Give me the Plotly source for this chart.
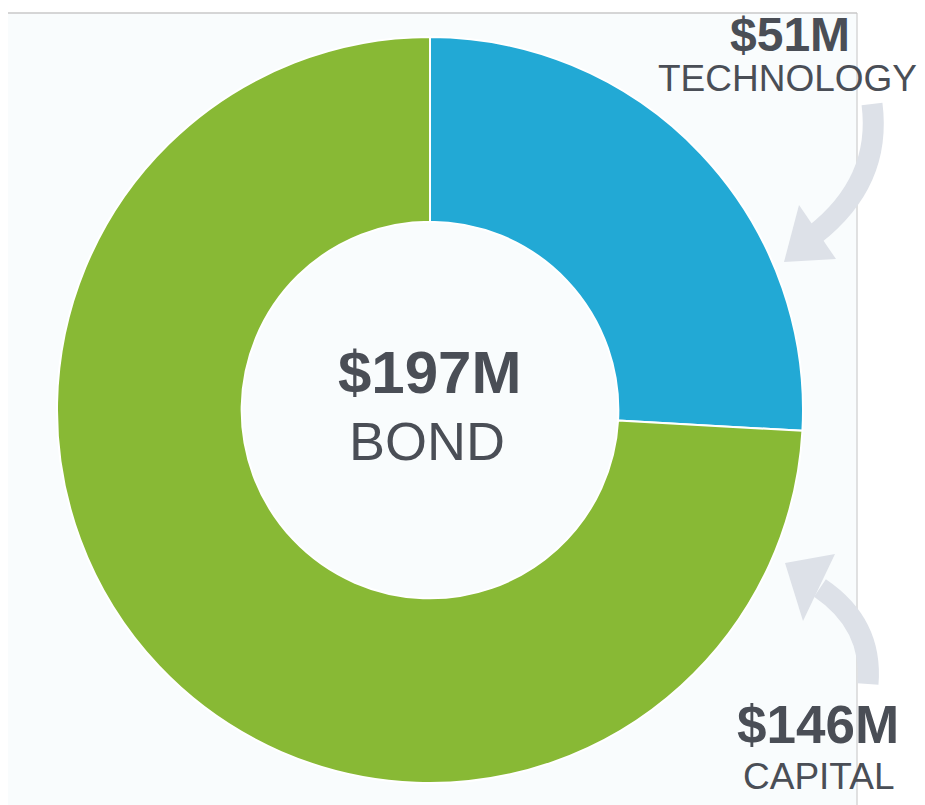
import plotly.graph_objects as go

# page body has an 8px margin; coordinates below are in the 925x805 window space
OFF = 8
W, H = 925 - OFF, 805 - OFF

categories = ["TECHNOLOGY", "CAPITAL"]
values = [51, 146]
value_labels = ["$51M", "$146M"]
total_label = "$197M"
center_label = "BOND"
colors = ["#22a9d5", "#88b935"]

TEXT = "#4a4e56"
ARROW = "#dde1e8"
FONT = "Liberation Sans, Arial, sans-serif"


def px(x):
    return (x - OFF) / W


def py(y):
    return 1 - (y - OFF) / H


fig = go.Figure()

fig.add_trace(go.Pie(
    labels=categories,
    values=values,
    hole=0.505,
    sort=False,
    direction="clockwise",
    rotation=0,
    textinfo="none",
    hoverinfo="label+value",
    marker=dict(colors=colors, line=dict(color="#ffffff", width=2)),
    domain=dict(x=[px(57), px(803)], y=[py(783), py(37)]),
    showlegend=False,
))

shapes = [
    dict(type="rect", xref="paper", yref="paper", x0=px(6), x1=px(857), y0=-0.05, y1=py(13),
         fillcolor="#f9fcfd", line=dict(width=0), layer="below"),
    dict(type="line", xref="paper", yref="paper", x0=px(6), x1=px(857), y0=py(13), y1=py(13),
         line=dict(color="#c8c8c8", width=1.5), layer="below"),
    dict(type="line", xref="paper", yref="paper", x0=px(857), x1=px(857), y0=-0.05, y1=py(13),
         line=dict(color="#c4c4c4", width=1), layer="below"),
]


def path_q(p0, c, p1):
    return "M {} {} Q {} {} {} {}".format(px(p0[0]), py(p0[1]), px(c[0]), py(c[1]), px(p1[0]), py(p1[1]))


def tri(a, b, c):
    return "M {} {} L {} {} L {} {} Z".format(px(a[0]), py(a[1]), px(b[0]), py(b[1]), px(c[0]), py(c[1]))


# top arrow (to technology)
shapes.append(dict(type="path", xref="paper", yref="paper",
                   path=path_q((872, 104), (882, 182), (814, 235)),
                   line=dict(color=ARROW, width=21), fillcolor="rgba(0,0,0,0)"))
shapes.append(dict(type="path", xref="paper", yref="paper",
                   path=tri((784, 262), (799, 205), (836, 259)),
                   fillcolor=ARROW, line=dict(width=0)))
# bottom arrow (to capital)
shapes.append(dict(type="path", xref="paper", yref="paper",
                   path=path_q((868, 684), (873, 624), (820, 588)),
                   line=dict(color=ARROW, width=21), fillcolor="rgba(0,0,0,0)"))
shapes.append(dict(type="path", xref="paper", yref="paper",
                   path=tri((785, 563), (835, 554), (803, 621)),
                   fillcolor=ARROW, line=dict(width=0)))

annotations = [
    dict(text="<b>" + total_label + "</b>", x=px(429), y=py(372), font=dict(size=60, color=TEXT, family=FONT)),
    dict(text=center_label, x=px(427), y=py(441), font=dict(size=54, color=TEXT, family=FONT)),
    dict(text="<b>" + value_labels[0] + "</b>", x=px(790), y=py(34), font=dict(size=48, color=TEXT, family=FONT)),
    dict(text=categories[0], x=px(787), y=py(78), font=dict(size=37, color=TEXT, family=FONT)),
    dict(text="<b>" + value_labels[1] + "</b>", x=px(818), y=py(724), font=dict(size=53, color=TEXT, family=FONT)),
    dict(text=categories[1], x=px(818), y=py(776), font=dict(size=37, color=TEXT, family=FONT)),
]
for a in annotations:
    a.update(xref="paper", yref="paper", showarrow=False, xanchor="center", yanchor="middle")

fig.update_layout(
    width=W, height=H,
    margin=dict(l=0, r=0, t=0, b=0),
    paper_bgcolor="#ffffff",
    plot_bgcolor="#ffffff",
    shapes=shapes,
    annotations=annotations,
)

fig.write_html("out.html")
